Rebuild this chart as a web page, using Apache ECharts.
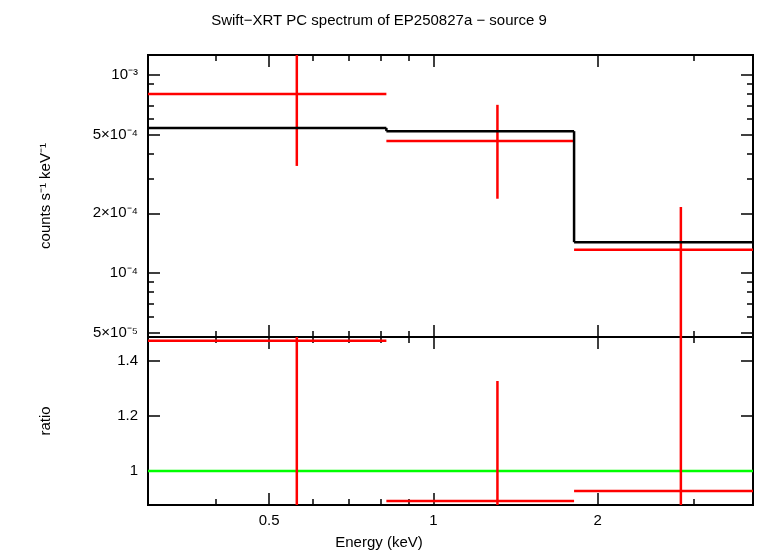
<!DOCTYPE html>
<html><head><meta charset="utf-8">
<script src="https://cdn.jsdelivr.net/npm/echarts@6/dist/echarts.min.js"></script>
<style>html,body{margin:0;background:#fff}#c{width:758px;height:556px}</style>
</head><body><div id="c"></div>
<script>
// energy bins (keV)
var binLo = [0.30, 0.82, 1.81];
var binHi = [0.82, 1.81, 3.85];
var binMid = [0.562, 1.31, 2.84];
// counts s^-1 keV^-1
var dataY = [8.0e-4, 4.64e-4, 1.31e-4];
var dataLo = [3.47e-4, 2.37e-4, 1e-6];
var dataHi = [2.0e-3, 7.06e-4, 2.15e-4];
var modelY = [5.4e-4, 5.2e-4, 1.43e-4];
// ratio
var ratioY = [1.473, 0.891, 0.927];
var ratioLo = [0.5, 0.5, 0.5];
var ratioHi = [2.0, 1.327, 2.0];

var xTicks = [0.5, 1, 2];
var xMinor = [0.4, 0.6, 0.7, 0.8, 0.9, 3];
var yTicks = [1e-3, 5e-4, 2e-4, 1e-4, 5e-5];
var yLabels = ['10⁻³', '5×10⁻⁴', '2×10⁻⁴', '10⁻⁴', '5×10⁻⁵'];
var yMinor = [9e-4, 8e-4, 7e-4, 6e-4, 4e-4, 3e-4, 9e-5, 8e-5, 7e-5, 6e-5];
var rTicks = [1, 1.2, 1.4];

var L2 = Math.log2, L10 = Math.log10;
var font = 'Liberation Sans, Arial, sans-serif';
var noLine = {show: false, onZero: false};

function crossSeries(xi, yi, color, mid, y, lo, hi) {
  var d = [];
  for (var i = 0; i < mid.length; i++) d.push([L2(binLo[i]), L2(binHi[i]), L2(mid[i]), y(i), lo(i), hi(i)]);
  return {
    type: 'custom', xAxisIndex: xi, yAxisIndex: yi, clip: true, data: d,
    renderItem: function (p, api) {
      var a = api.coord([api.value(0), api.value(3)]);
      var b = api.coord([api.value(1), api.value(3)]);
      var c = api.coord([api.value(2), api.value(4)]);
      var e = api.coord([api.value(2), api.value(5)]);
      var st = {stroke: color, lineWidth: 2.5};
      return {type: 'group', children: [
        {type: 'line', shape: {x1: a[0], y1: a[1], x2: b[0], y2: b[1]}, style: st},
        {type: 'line', shape: {x1: c[0], y1: c[1], x2: e[0], y2: e[1]}, style: st}
      ]};
    }
  };
}

var modelData = [];
for (var i = 0; i < binLo.length; i++) modelData.push([L2(binLo[i]), L2(binHi[i]), L10(modelY[i]), i > 0 ? L10(modelY[i - 1]) : null]);

function xAx(grid, pos, labels) {
  return {
    type: 'value', gridIndex: grid, position: pos, min: L2(0.3), max: L2(3.85),
    axisLine: noLine, splitLine: {show: false},
    axisTick: {inside: true, length: 12, lineStyle: {color: '#000', width: 1.5}, customValues: xTicks.map(L2)},
    axisLabel: {show: labels, customValues: xTicks.map(L2), color: '#000', fontSize: 15, fontFamily: font,
      formatter: function (v) { return String(+Math.pow(2, v).toFixed(2)); }}
  };
}
function minorX(grid, pos) {
  return {type: 'value', gridIndex: grid, position: pos, min: L2(0.3), max: L2(3.85),
    axisLine: noLine, splitLine: {show: false}, axisLabel: {show: false},
    axisTick: {inside: true, length: 6, lineStyle: {color: '#000', width: 1.5}, customValues: xMinor.map(L2)}};
}
function yAx(grid, pos, min, max, ticks, len) {
  return {type: 'value', gridIndex: grid, min: min, max: max, position: pos,
    axisLine: noLine, splitLine: {show: false}, axisLabel: {show: false},
    axisTick: {inside: true, length: len, lineStyle: {color: '#000', width: 1.5}, customValues: ticks}};
}

var topMin = L10(4.75e-5), topMax = L10(1.26e-3);
var yMain = yAx(0, 'left', topMin, topMax, yTicks.map(L10), 12);
yMain.name = 'counts s⁻¹ keV⁻¹';
yMain.nameLocation = 'middle';
yMain.nameGap = 95;
yMain.nameTextStyle = {fontFamily: font, fontSize: 15, color: '#000'};
yMain.axisLabel = {show: true, customValues: yTicks.map(L10), color: '#000', fontSize: 15, fontFamily: font, margin: 10,
  formatter: function (v) { for (var k = 0; k < yTicks.length; k++) if (Math.abs(L10(yTicks[k]) - v) < 1e-6) return yLabels[k]; return ''; }};
var rMain = yAx(1, 'left', 0.876, 1.487, rTicks, 12);
rMain.name = 'ratio';
rMain.nameLocation = 'middle';
rMain.nameGap = 95;
rMain.nameTextStyle = {fontFamily: font, fontSize: 15, color: '#000'};
rMain.axisLabel = {show: true, customValues: rTicks, color: '#000', fontSize: 15, fontFamily: font, margin: 10,
  formatter: function (v) { return v === 1 ? '1' : v.toFixed(1); }};

var opt = {
  backgroundColor: '#fff',
  animation: false,
  title: {text: 'Swift−XRT PC spectrum of EP250827a − source 9', left: 'center', top: 8,
    textStyle: {fontFamily: font, fontWeight: 'normal', fontSize: 15, color: '#000'}},
  grid: [
    {left: 148, right: 5, top: 55, height: 282, show: true, borderColor: '#000', borderWidth: 2, backgroundColor: 'transparent'},
    {left: 148, right: 5, top: 337, height: 168, show: true, borderColor: '#000', borderWidth: 2, backgroundColor: 'transparent'}
  ],
  xAxis: [xAx(0, 'bottom', false), xAx(0, 'top', false), xAx(1, 'bottom', true), xAx(1, 'top', false),
    minorX(0, 'bottom'), minorX(0, 'top'), minorX(1, 'bottom'), minorX(1, 'top')],
  yAxis: [
    yMain,
    yAx(0, 'right', topMin, topMax, yTicks.map(L10), 12),
    yAx(0, 'left', topMin, topMax, yMinor.map(L10), 6),
    yAx(0, 'right', topMin, topMax, yMinor.map(L10), 6),
    rMain,
    yAx(1, 'right', 0.876, 1.487, rTicks, 12)
  ],
  graphic: [{type: 'text', left: 'center', top: 535, style: {text: 'Energy (keV)', font: '15px ' + font, fill: '#000'}}],
  series: [
    {type: 'custom', xAxisIndex: 0, yAxisIndex: 0, clip: true, data: modelData, z: 3,
      renderItem: function (p, api) {
        var a = api.coord([api.value(0), api.value(2)]);
        var b = api.coord([api.value(1), api.value(2)]);
        var st = {stroke: '#000', lineWidth: 2.5};
        var ch = [{type: 'line', shape: {x1: a[0], y1: a[1], x2: b[0], y2: b[1]}, style: st}];
        if (p.dataIndex > 0) {
          var c = api.coord([api.value(0), api.value(3)]);
          ch.push({type: 'line', shape: {x1: c[0], y1: c[1], x2: a[0], y2: a[1]}, style: st});
        }
        return {type: 'group', children: ch};
      }},
    crossSeries(0, 0, '#ff0000', binMid, function (i) { return L10(dataY[i]); }, function (i) { return L10(dataLo[i]); }, function (i) { return L10(dataHi[i]); }),
    {type: 'line', xAxisIndex: 2, yAxisIndex: 4, data: [[L2(0.3), 1], [L2(3.85), 1]], symbol: 'none',
      lineStyle: {color: '#00ff00', width: 2.5}, z: 1},
    crossSeries(2, 4, '#ff0000', binMid, function (i) { return ratioY[i]; }, function (i) { return ratioLo[i]; }, function (i) { return ratioHi[i]; })
  ]
};
echarts.init(document.getElementById('c')).setOption(opt);
</script></body></html>
